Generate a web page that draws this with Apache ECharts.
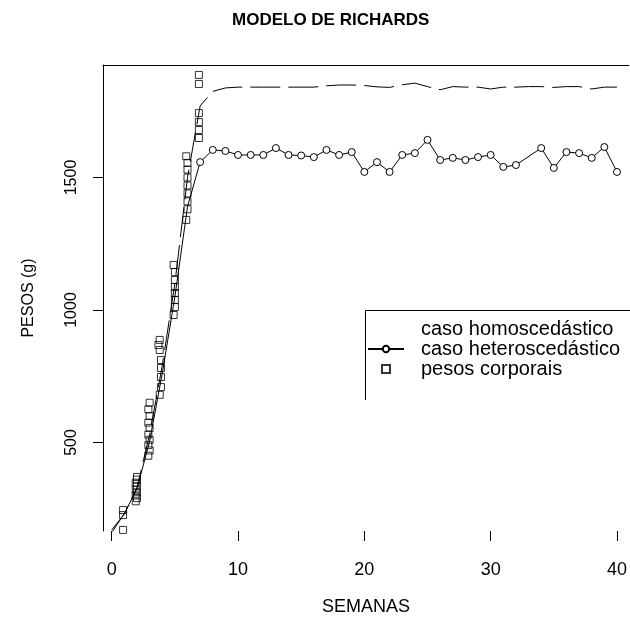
<!DOCTYPE html>
<html><head><meta charset="utf-8">
<script src="https://cdn.jsdelivr.net/npm/echarts@6/dist/echarts.min.js"></script>
<style>html,body{margin:0;padding:0;background:#fff}#c{width:630px;height:628px}</style>
</head><body><div id="c"></div>
<script>
// ---- data ----
const xTicks = [0, 10, 20, 30, 40];
const yTicks = [500, 1000, 1500];

const obsWeeks = [0.9,0.9,0.9,
  1.9,2.0,1.9,2.0,1.9,2.0,1.9,2.0,2.0,
  2.9,3.0,2.9,3.0,2.9,3.0,2.9,3.0,2.9,3.0,
  3.8,3.9,3.9,3.9,3.9,3.8,3.7,3.8,
  4.9,5.0,5.0,5.0,5.0,5.0,5.0,4.9,
  5.9,6.0,6.0,6.0,6.0,6.0,6.0,6.0,5.9,
  6.9,6.9,6.9,6.9,6.9,6.9];
const obsPesos = [170,226,245,
  278,290,300,312,322,335,348,360,370,
  450,470,490,510,530,555,575,600,625,650,
  680,709,747,781,811,849,868,887,
  981,1011,1038,1064,1087,1113,1143,1170,
  1340,1380,1410,1440,1470,1500,1530,1555,1580,
  1649,1679,1709,1743,1853,1887];

const homoWeeks = [0,1,2,3,4,5,6,7,8,9,10,11,12,13,14,15,16,17,18,19,20,21,22,23,24,25,26,27,28,29,30,31,32,33,34,35,36,37,38,39,40];
const homoPesos = [170,230,330,530,790,1100,1500,1770,1825,1838,1841,1841,1841,1841,1841,1841,1841,1846,1849,1849,1847,1842,1840,1850,1856,1843,1831,1843,1841,1841,1834,1841,1841,1843,1843,1840,1843,1843,1834,1841,1841];

const heteroWeeks = [0,1,2,3,4,5,6,7,8,9,10,11,12,13,14,15,16,17,18,19,20,21,22,23,24,25,26,27,28,29,30,31,32,34,35,36,37,38,39,40];
const heteroPesos = [160,232,325,505,760,1050,1390,1558,1604,1600,1585,1585,1585,1611,1585,1583,1577,1604,1585,1596,1521,1558,1521,1585,1592,1642,1566,1574,1566,1577,1585,1540,1547,1611,1536,1596,1592,1574,1615,1521];

const TITLE = 'MODELO DE RICHARDS';
const X_NAME = 'SEMANAS';
const Y_NAME = 'PESOS (g)';
const S_HOMO = 'caso homoscedástico';
const S_HETERO = 'caso heteroscedástico';
const S_OBS = 'pesos corporais';

// ---- chart ----
const FONT = '"Liberation Sans", Arial, Helvetica, sans-serif';
const chart = echarts.init(document.getElementById('c'));
const xMin = -0.69, xMax = 40.94, yMin = 166, yMax = 1924.5;

const option = {
  animation: false,
  backgroundColor: '#fff',
  title: {
    text: TITLE, left: 232, top: 12, padding: 0,
    textStyle: { fontFamily: FONT, fontWeight: 'bold', fontSize: 17, color: '#000' }
  },
  grid: { left: 103, right: 0, top: 65, bottom: 97 },
  xAxis: [{
    type: 'value', min: xMin, max: xMax, position: 'bottom',
    name: X_NAME, nameLocation: 'middle', nameGap: 67,
    nameTextStyle: { fontFamily: FONT, fontSize: 18, color: '#000' },
    axisLine: { show: false },
    axisTick: { show: true, customValues: xTicks, length: 10, lineStyle: { color: '#000', width: 1 } },
    axisLabel: { customValues: xTicks, margin: 30, fontFamily: FONT, fontSize: 18, color: '#000' },
    splitLine: { show: false }
  }, {
    type: 'value', min: xMin, max: xMax, position: 'top',
    axisLine: { show: true, onZero: false, lineStyle: { color: '#000', width: 1 } },
    axisTick: { show: false }, axisLabel: { show: false }, splitLine: { show: false }
  }],
  yAxis: {
    type: 'value', min: yMin, max: yMax,
    name: Y_NAME, nameLocation: 'middle', nameGap: 66, nameRotate: 90,
    nameTextStyle: { fontFamily: FONT, fontSize: 16, color: '#000' },
    axisLine: { show: true, onZero: false, lineStyle: { color: '#000', width: 1 } },
    axisTick: { show: true, customValues: yTicks, length: 10, lineStyle: { color: '#000', width: 1 } },
    axisLabel: { customValues: yTicks, rotate: 90, margin: 23, fontFamily: FONT, fontSize: 16, color: '#000',
      formatter: v => String(v) },
    splitLine: { show: false }
  },
  legend: {
    orient: 'vertical', left: 367, top: 319, padding: 0,
    itemWidth: 36, itemHeight: 8, itemGap: 0, selectedMode: false,
    textStyle: { fontFamily: FONT, fontSize: 20, lineHeight: 18, color: '#000', padding: [0, 0, 0, 12] },
    data: [
      { name: S_HOMO, itemStyle: { opacity: 0 }, lineStyle: { opacity: 0 } },
      { name: S_HETERO },
      { name: S_OBS, icon: 'path://M0,0L10,0L10,10L0,10Z' }
    ]
  },
  graphic: [{
    type: 'polyline', silent: true,
    shape: { points: [[365.5, 400], [365.5, 310.5], [630, 310.5]] },
    style: { stroke: '#000', lineWidth: 1, fill: null }
  }],
  series: [{
    name: S_HOMO, type: 'line', xAxisIndex: 0,
    data: homoWeeks.map((w, i) => [w, homoPesos[i]]),
    symbol: 'none', showSymbol: false,
    lineStyle: { color: '#000', width: 1, type: [30, 8] },
    itemStyle: { color: '#000' }, z: 2
  }, {
    name: S_HETERO, type: 'line', xAxisIndex: 0,
    data: heteroWeeks.map((w, i) => ({ value: [w, heteroPesos[i]], symbol: w < 7 ? 'none' : 'circle' })),
    symbol: 'circle', symbolSize: 7, showAllSymbol: true,
    lineStyle: { color: '#000', width: 1 },
    itemStyle: { color: '#fff', borderColor: '#000', borderWidth: 1 }, z: 3
  }, {
    name: S_OBS, type: 'scatter', xAxisIndex: 0,
    data: obsWeeks.map((w, i) => [w, obsPesos[i]]),
    symbol: 'rect', symbolSize: 7,
    itemStyle: { color: 'rgba(0,0,0,0)', borderColor: '#000', borderWidth: 1 }, z: 4
  }]
};
chart.setOption(option);
</script>
</body></html>
